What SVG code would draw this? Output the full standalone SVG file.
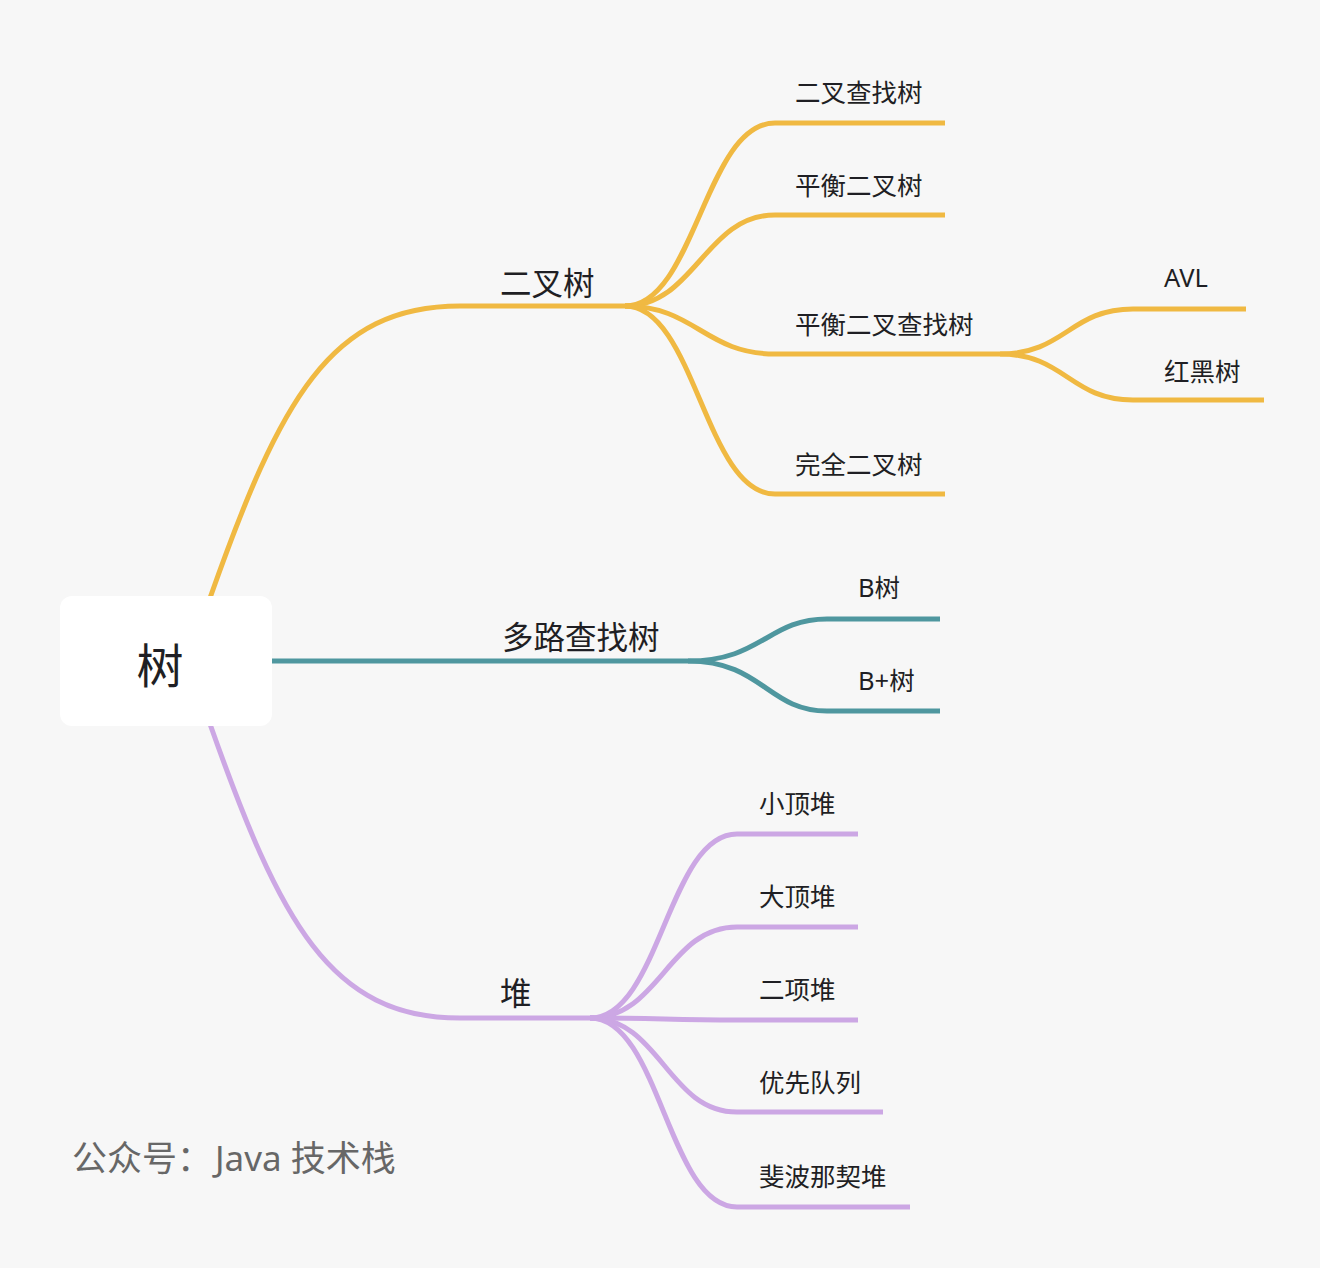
<svg xmlns="http://www.w3.org/2000/svg" width="1320" height="1268" viewBox="0 0 1320 1268">
<style>
  text { font-family: "Noto Sans", "Noto Sans CJK SC", sans-serif; fill: #1f1f24; }
  .l1 { font-size: 31.5px; }
  .l2 { font-size: 25.5px; }
  .root { font-size: 47px; }
  .wm { font-size: 35px; fill: #676767; }
  .c { fill: none; stroke-width: 5; stroke-linecap: butt; }
  .y { stroke: #F0B942; }
  .t { stroke: #4F979F; }
  .p { stroke: #CCA7E4; }
</style>
<rect width="1320" height="1268" fill="#F7F7F7"/>
<g id="connectors">
  <path class="c y" d="M210 598 C280 400 330 306 460 306 L625 306"/>
  <path class="c y" d="M625 306 C695 306 705 123 775 123 L945 123"/>
  <path class="c y" d="M625 306 C695 306 705 215 775 215 L945 215"/>
  <path class="c y" d="M625 306 C695 306 705 354 775 354 L1000 354"/>
  <path class="c y" d="M625 306 C695 306 705 494 775 494 L945 494"/>
  <path class="c y" d="M1000 354 C1065 354 1070 309 1133 309 L1246 309"/>
  <path class="c y" d="M1000 354 C1065 354 1070 400 1133 400 L1264 400"/>
  <path class="c t" d="M272 661 L688 661"/>
  <path class="c t" d="M688 661 C762 661 768 619 827 619 L940 619"/>
  <path class="c t" d="M688 661 C762 661 768 711 827 711 L940 711"/>
  <path class="c p" d="M210 724 C280 922 330 1018 460 1018 L590 1018"/>
  <path class="c p" d="M590 1018 C660 1018 668 834 737 834 L858 834"/>
  <path class="c p" d="M590 1018 C660 1018 668 927 737 927 L858 927"/>
  <path class="c p" d="M590 1018 C660 1018 668 1020 737 1020 L858 1020"/>
  <path class="c p" d="M590 1018 C660 1018 668 1112 737 1112 L883 1112"/>
  <path class="c p" d="M590 1018 C660 1018 668 1207 737 1207 L910 1207"/>
</g>
<g id="root">
  <rect x="60" y="596" width="212" height="130" rx="12" fill="#FFFFFF"/>
  <text class="root" x="160" y="683" text-anchor="middle">树</text>
</g>
<g id="n-binary"><text class="l1" x="500" y="295">二叉树</text></g>
<g id="n-bst"><text class="l2" x="795" y="102">二叉查找树</text></g>
<g id="n-balanced"><text class="l2" x="795" y="195">平衡二叉树</text></g>
<g id="n-balanced-bst"><text class="l2" x="795" y="334">平衡二叉查找树</text></g>
<g id="n-avl"><text class="l2" x="1164" y="287">AVL</text></g>
<g id="n-rb"><text class="l2" x="1164" y="381">红黑树</text></g>
<g id="n-complete"><text class="l2" x="795" y="474">完全二叉树</text></g>
<g id="n-multi"><text class="l1" x="502" y="649">多路查找树</text></g>
<g id="n-btree"><text class="l2" x="858" y="597">B树</text></g>
<g id="n-bplus"><text class="l2" x="858" y="690">B+树</text></g>
<g id="n-heap"><text class="l1" x="500" y="1005">堆</text></g>
<g id="n-min"><text class="l2" x="759" y="813">小顶堆</text></g>
<g id="n-max"><text class="l2" x="759" y="906">大顶堆</text></g>
<g id="n-binom"><text class="l2" x="759" y="999">二项堆</text></g>
<g id="n-pq"><text class="l2" x="759" y="1092">优先队列</text></g>
<g id="n-fib"><text class="l2" x="759" y="1186">斐波那契堆</text></g>
<text class="wm" x="72" y="1171">公众号：<tspan x="215">Java 技术栈</tspan></text>
</svg>
